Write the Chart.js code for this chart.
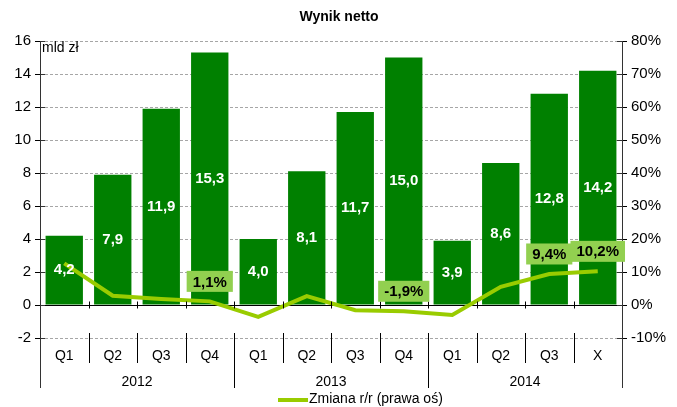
<!DOCTYPE html>
<html>
<head>
<meta charset="utf-8">
<script src="https://cdn.jsdelivr.net/npm/chart.js@4.4.1/dist/chart.umd.min.js"></script>
<style>
  html, body { margin: 0; padding: 0; background: #fff; }
  #wrap { width: 677px; height: 407px; position: relative; }
</style>
</head>
<body>
<div id="wrap"><canvas id="chart" width="677" height="407"></canvas></div>
<script>
// Data
const quarters = ['Q1', 'Q2', 'Q3', 'Q4', 'Q1', 'Q2', 'Q3', 'Q4', 'Q1', 'Q2', 'Q3', 'X'];
const years = ['2012', '2013', '2014'];
const yearSpans = [4, 4, 4];
const netResult = [4.2, 7.9, 11.9, 15.3, 4.0, 8.1, 11.7, 15.0, 3.9, 8.6, 12.8, 14.2];
const yoyChange = [12.6, 2.8, 1.8, 1.1, -3.6, 2.7, -1.6, -1.9, -3.0, 5.5, 9.4, 10.2];
const labelledPoints = [3, 7, 10, 11];
const leftTicks = [-2, 0, 2, 4, 6, 8, 10, 12, 14, 16];
const rightTicks = [-10, 0, 10, 20, 30, 40, 50, 60, 70, 80];

const FONT = '"Liberation Sans", Arial, sans-serif';
const fmt = (v, d) => v.toFixed(d).replace('.', ',');

// draws title, unit, category labels, separators, value labels and legend
const decorations = {
    id: 'decorations',
    beforeDatasetsDraw(chart) {
        const ctx = chart.ctx;
        const y = chart.scales.y;
        const area = chart.chartArea;
        const y0 = y.getPixelForValue(0);
        ctx.save();
        ctx.strokeStyle = '#000';
        ctx.lineWidth = 1;
        ctx.beginPath();
        ctx.moveTo(area.left, Math.round(y0) + 0.5);
        ctx.lineTo(area.right, Math.round(y0) + 0.5);
        ctx.stroke();
        ctx.restore();
    },
    afterDatasetsDraw(chart) {
        const ctx = chart.ctx;
        const x = chart.scales.x;
        const y = chart.scales.y;
        const area = chart.chartArea;
        const y0 = Math.round(y.getPixelForValue(0)) + 0.5;
        const step = (area.right - area.left) / quarters.length;
        ctx.save();

        // title and unit
        ctx.fillStyle = '#000';
        ctx.textAlign = 'center';
        ctx.textBaseline = 'middle';
        ctx.font = 'bold 14px ' + FONT;
        ctx.fillText('Wynik netto', 339, 17);
        ctx.textAlign = 'left';
        ctx.font = '14px ' + FONT;
        ctx.fillText('mld zł', 42, 48);

        // axis lines extended down through the category labels
        ctx.strokeStyle = '#333';
        ctx.lineWidth = 1;
        ctx.beginPath();
        [area.left, area.right].forEach(px => {
            const p = Math.round(px) + 0.5;
            ctx.moveTo(p, area.top);
            ctx.lineTo(p, 388);
        });
        // inner halves of the value-axis ticks
        leftTicks.forEach(v => {
            const py = Math.round(y.getPixelForValue(v)) + 0.5;
            ctx.moveTo(area.left, py);
            ctx.lineTo(area.left + 5, py);
        });
        rightTicks.forEach(v => {
            const py = Math.round(chart.scales.y1.getPixelForValue(v)) + 0.5;
            ctx.moveTo(area.right, py);
            ctx.lineTo(area.right - 5, py);
        });
        ctx.stroke();

        // category separators
        ctx.strokeStyle = '#000';
        ctx.beginPath();
        let acc = 0;
        const yearEdges = yearSpans.map(s => (acc += s));
        for (let i = 1; i < quarters.length; i++) {
            const p = Math.round(area.left + step * i) + 0.5;
            ctx.moveTo(p, y0 - 4);
            ctx.lineTo(p, y0 + 3);
            ctx.moveTo(p, area.bottom - 5);
            ctx.lineTo(p, yearEdges.includes(i) ? 388 : 363);
        }
        ctx.stroke();

        // quarter and year labels
        ctx.fillStyle = '#000';
        ctx.textAlign = 'center';
        ctx.font = '14px ' + FONT;
        quarters.forEach((q, i) => ctx.fillText(q, x.getPixelForValue(i), 356));
        let start = 0;
        years.forEach((yr, i) => {
            const mid = area.left + step * (start + yearSpans[i] / 2);
            ctx.fillText(yr, mid, 382);
            start += yearSpans[i];
        });

        // bar value labels
        ctx.font = 'bold 15px ' + FONT;
        ctx.fillStyle = '#fff';
        chart.getDatasetMeta(0).data.forEach((bar, i) => {
            const cy = (bar.y + bar.base) / 2;
            ctx.fillText(fmt(netResult[i], 1), bar.x, cy);
        });

        // line value labels in boxes
        const lineMeta = chart.getDatasetMeta(1);
        ctx.font = 'bold 15px ' + FONT;
        labelledPoints.forEach(i => {
            const pt = lineMeta.data[i];
            const txt = fmt(yoyChange[i], 1) + '%';
            const w = ctx.measureText(txt).width + 12;
            const h = 21;
            const cx = pt.x;
            const cy = pt.y - 20;
            ctx.fillStyle = '#92d050';
            ctx.fillRect(cx - w / 2, cy - h / 2, w, h);
            ctx.fillStyle = '#000';
            ctx.fillText(txt, cx, cy + 1);
        });

        // legend
        ctx.strokeStyle = '#99cc00';
        ctx.lineWidth = 4;
        ctx.beginPath();
        ctx.moveTo(278, 400);
        ctx.lineTo(308, 400);
        ctx.stroke();
        ctx.fillStyle = '#000';
        ctx.textAlign = 'left';
        ctx.font = '14px ' + FONT;
        ctx.fillText('Zmiana r/r (prawa oś)', 309, 399);
        ctx.restore();
    }
};

new Chart(document.getElementById('chart'), {
    data: {
        labels: quarters,
        datasets: [{
            type: 'bar',
            data: netResult,
            backgroundColor: '#008000',
            barPercentage: 0.77,
            categoryPercentage: 1,
            yAxisID: 'y',
            order: 2
        }, {
            type: 'line',
            data: yoyChange,
            borderColor: '#99cc00',
            borderWidth: 4,
            pointRadius: 0,
            tension: 0,
            yAxisID: 'y1',
            order: 1
        }]
    },
    options: {
        responsive: false,
        animation: false,
        layout: { padding: { top: 41, bottom: 69, left: 0, right: 0 } },
        plugins: {
            legend: { display: false },
            title: { display: false },
            tooltip: { enabled: false }
        },
        scales: {
            x: {
                display: false,
                offset: true
            },
            y: {
                position: 'left',
                min: -2,
                max: 16,
                afterFit: s => { s.width = 40; },
                afterBuildTicks: s => { s.ticks = leftTicks.map(v => ({ value: v })); },
                ticks: {
                    font: { size: 15, family: FONT },
                    color: '#000',
                    padding: 4,
                    callback: v => v
                },
                grid: {
                    color: '#a6a6a6',
                    tickColor: '#000',
                    tickLength: 5,
                    drawOnChartArea: true
                },
                border: { display: false, dash: [3, 2] }
            },
            y1: {
                position: 'right',
                min: -10,
                max: 80,
                afterFit: s => { s.width = 55; },
                afterBuildTicks: s => { s.ticks = rightTicks.map(v => ({ value: v })); },
                ticks: {
                    font: { size: 15, family: FONT },
                    color: '#000',
                    padding: 4,
                    callback: v => v + '%'
                },
                grid: {
                    drawOnChartArea: false,
                    tickColor: '#000',
                    tickLength: 5
                },
                border: { display: false }
            }
        }
    },
    plugins: [decorations]
});
</script>
</body>
</html>
